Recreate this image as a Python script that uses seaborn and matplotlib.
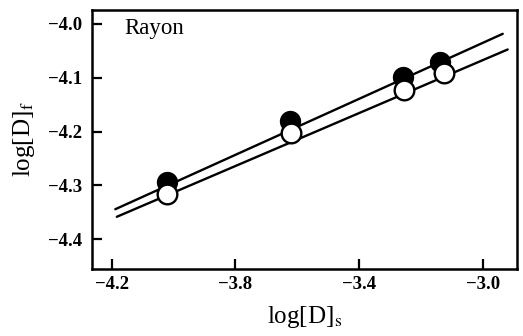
import matplotlib
matplotlib.use("Agg")
import matplotlib.pyplot as plt
import seaborn as sns
import pandas as pd

# Measured points: dye in fibre vs dye in solution (log scale), rayon
x_filled = [-4.022, -3.623, -3.259, -3.141]
y_filled = [-4.294, -4.181, -4.099, -4.072]
x_open = [-4.020, -3.620, -3.256, -3.127]
y_open = [-4.316, -4.203, -4.124, -4.092]

# Straight-line fits through each series (end points)
fit_upper_x = [-4.188, -2.937]
fit_upper_y = [-4.344, -4.019]
fit_lower_x = [-4.183, -2.921]
fit_lower_y = [-4.358, -4.048]

x_ticks = [-4.2, -3.8, -3.4, -3.0]
y_ticks = [-4.0, -4.1, -4.2, -4.3, -4.4]

sns.set_style("ticks")
plt.rcParams["font.family"] = ["Liberation Serif", "DejaVu Serif"]
plt.rcParams["mathtext.fontset"] = "stix"
plt.rcParams["text.color"] = "black"
plt.rcParams["axes.labelcolor"] = "black"
plt.rcParams["xtick.color"] = "black"
plt.rcParams["ytick.color"] = "black"

fig = plt.figure(figsize=(5.23, 3.36), dpi=100)
ax = fig.add_axes([0.176, 0.199, 0.8125, 0.771])

upper = pd.DataFrame({"x": fit_upper_x, "y": fit_upper_y})
lower = pd.DataFrame({"x": fit_lower_x, "y": fit_lower_y})
sns.lineplot(data=upper, x="x", y="y", ax=ax, color="black", lw=1.7, zorder=2)
sns.lineplot(data=lower, x="x", y="y", ax=ax, color="black", lw=1.7, zorder=2)

filled = pd.DataFrame({"x": x_filled, "y": y_filled})
opened = pd.DataFrame({"x": x_open, "y": y_open})
sns.scatterplot(data=filled, x="x", y="y", ax=ax, s=200, color="black",
                edgecolor="black", linewidth=1.2, zorder=3)
sns.scatterplot(data=opened, x="x", y="y", ax=ax, s=200, color="white",
                edgecolor="black", linewidth=1.7, zorder=4)

ax.set_xlim(-4.263, -2.891)
ax.set_ylim(-4.455, -3.975)
ax.set_xticks(x_ticks)
ax.set_yticks(y_ticks)
ax.set_xticklabels([f"{v:.1f}".replace("-", "\u2212") for v in x_ticks],
                   fontweight="bold", fontsize=13.5, color="black")
ax.set_yticklabels([f"{v:.1f}".replace("-", "\u2212") for v in y_ticks],
                   fontweight="bold", fontsize=13.5, color="black")
ax.tick_params(direction="in", length=7, width=1.6, color="black")
ax.tick_params(axis="x", pad=5)
ax.tick_params(axis="y", pad=7)

for side in ["left", "bottom", "top", "right"]:
    ax.spines[side].set_linewidth(1.8)
    ax.spines[side].set_color("black")

ax.set_xlabel(r"log[D]$_{\mathrm{s}}$", fontsize=18, labelpad=8, color="black")
ax.set_ylabel(r"log[D]$_{\mathrm{f}}$", fontsize=18, labelpad=8, color="black")
ax.text(0.075, 0.93, "Rayon", transform=ax.transAxes, fontsize=16.5,
        ha="left", va="center", color="black")

fig.savefig("out.png", dpi=100)
